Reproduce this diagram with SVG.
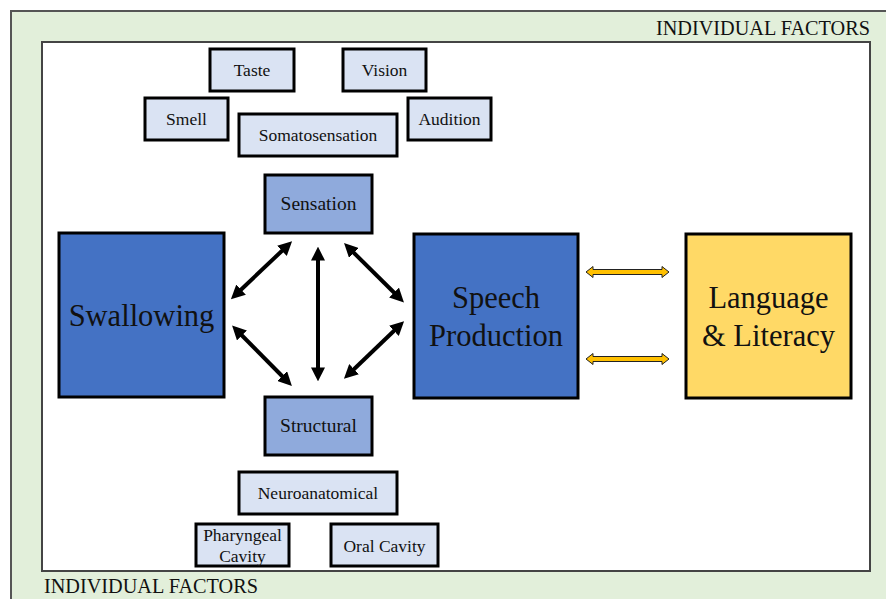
<svg xmlns="http://www.w3.org/2000/svg" width="886" height="599" viewBox="0 0 886 599">
<defs>
<style>
.t{font-family:"Liberation Serif","Times New Roman",serif;fill:#111;text-anchor:middle}
.sm{font-size:17.5px}
.md{font-size:19.5px}
.lg{font-size:30.5px}
.hdr{font-family:"Liberation Serif","Times New Roman",serif;font-size:20px;fill:#111}
.lite{fill:#DAE3F3;stroke:#000;stroke-width:3}
.mid{fill:#8FAADC;stroke:#000;stroke-width:3}
.big{fill:#4472C4;stroke:#000;stroke-width:3}
.yel{fill:#FFD966;stroke:#000;stroke-width:3}
.arr{stroke:#000;stroke-width:4;fill:none;marker-start:url(#ah);marker-end:url(#ah)}
.ya{fill:#FFC000;stroke:#222;stroke-width:1}
</style>
<marker id="ah" viewBox="0 0 10 10" refX="4" refY="5" markerWidth="14" markerHeight="14" markerUnits="userSpaceOnUse" orient="auto-start-reverse">
<path d="M0,0 L10,5 L0,10 z" fill="#000"/>
</marker>
</defs>
<rect x="0" y="0" width="886" height="599" fill="#fff"/>
<g id="frame">
<rect x="11" y="11" width="890" height="600" fill="#E2EFDA" stroke="#555" stroke-width="2"/>
<rect x="42" y="42" width="828" height="529" fill="#fff" stroke="#444" stroke-width="2"/>
<text class="hdr" x="870" y="35" text-anchor="end" textLength="214" lengthAdjust="spacingAndGlyphs">INDIVIDUAL FACTORS</text>
<text class="hdr" x="44" y="593" textLength="214" lengthAdjust="spacingAndGlyphs">INDIVIDUAL FACTORS</text>
</g>
<g id="taste"><rect class="lite" x="210" y="49" width="84" height="42"/><text class="t sm" x="252" y="76">Taste</text></g>
<g id="vision"><rect class="lite" x="343" y="49" width="83" height="42"/><text class="t sm" x="384.5" y="76">Vision</text></g>
<g id="smell"><rect class="lite" x="145" y="98" width="83" height="42"/><text class="t sm" x="186.5" y="125">Smell</text></g>
<g id="audition"><rect class="lite" x="408" y="98" width="83" height="42"/><text class="t sm" x="449.5" y="125">Audition</text></g>
<g id="somatosensation"><rect class="lite" x="239" y="114" width="158" height="42"/><text class="t sm" x="318" y="141">Somatosensation</text></g>
<g id="sensation"><rect class="mid" x="265" y="175" width="107" height="58"/><text class="t md" x="318.5" y="210">Sensation</text></g>
<g id="swallowing"><rect class="big" x="59" y="233" width="165" height="164"/><text class="t lg" x="141.5" y="326">Swallowing</text></g>
<g id="speech"><rect class="big" x="414" y="234" width="164" height="164"/><text class="t lg" x="496" y="308">Speech</text><text class="t lg" x="496" y="346">Production</text></g>
<g id="language"><rect class="yel" x="686" y="234" width="165" height="164"/><text class="t lg" x="768.5" y="308">Language</text><text class="t lg" x="768.5" y="346">&amp; Literacy</text></g>
<g id="structural"><rect class="mid" x="265" y="397" width="107" height="58"/><text class="t md" x="318.5" y="432">Structural</text></g>
<g id="neuroanatomical"><rect class="lite" x="239" y="472" width="158" height="42"/><text class="t sm" x="318" y="499">Neuroanatomical</text></g>
<g id="pharyngeal"><rect class="lite" x="196" y="524" width="93" height="42"/><text class="t sm" x="242.5" y="541">Pharyngeal</text><text class="t sm" x="242.5" y="562">Cavity</text></g>
<g id="oral"><rect class="lite" x="331" y="524" width="107" height="42"/><text class="t sm" x="384.5" y="552">Oral Cavity</text></g>
<g id="connectors">
<line class="arr" x1="286" y1="247" x2="237" y2="293.5"/>
<line class="arr" x1="318" y1="255" x2="318" y2="373"/>
<line class="arr" x1="350" y1="249" x2="398" y2="296.5"/>
<line class="arr" x1="238" y1="331.5" x2="286" y2="380"/>
<line class="arr" x1="398" y1="327" x2="350" y2="373"/>
<polygon class="ya" points="586,272 593,266.5 593,269.5 662,269.5 662,266.5 669,272 662,277.5 662,274.5 593,274.5 593,277.5"/>
<polygon class="ya" points="586,359 593,353.5 593,356.5 662,356.5 662,353.5 669,359 662,364.5 662,361.5 593,361.5 593,364.5"/>
</g>
</svg>
